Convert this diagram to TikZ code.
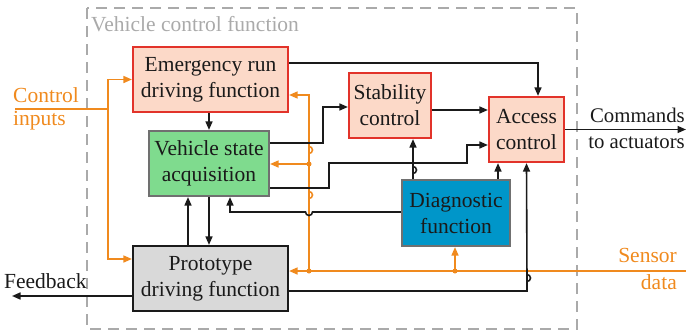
\documentclass[tikz,border=0pt]{standalone}
\usepackage{fontspec}
\setmainfont{Liberation Serif}
\usetikzlibrary{arrows.meta}
\definecolor{ora}{HTML}{F08A1E}
\definecolor{salm}{HTML}{FCD9C8}
\definecolor{redb}{HTML}{E2332A}
\definecolor{grn}{HTML}{7FDB8E}
\definecolor{blu}{HTML}{0096C9}
\definecolor{gry}{HTML}{D9D9D9}
\definecolor{brd}{HTML}{707070}
\definecolor{ttl}{HTML}{AAAAAA}
\definecolor{ink}{HTML}{1A1A1A}
\begin{document}
\begin{tikzpicture}[x=1pt,y=-1pt,
  txt/.style={font=\fontsize{21.5}{26}\selectfont, text=ink},
  box/.style={txt, draw, line width=2.2pt, align=center, inner sep=0pt},
  redbox/.style={box, draw=redb, fill=salm},
  arr/.style={line width=1.6pt, draw=ink, -{Triangle[length=8.5pt,width=7pt]}},
  ln/.style={line width=1.6pt, draw=ink},
  oarr/.style={line width=1.6pt, draw=ora, -{Triangle[length=8.5pt,width=7pt]}},
  oln/.style={line width=1.6pt, draw=ora},
  dotc/.style={circle, fill=ora, inner sep=0pt, minimum size=5pt},
  olab/.style={txt, text=ora, inner sep=0pt}
]
\useasboundingbox (0,0) rectangle (686,332);
% frame
\draw[ttl, line width=2.6pt, dash pattern=on 11pt off 7pt] (87,8) rectangle (577,329);
\node[txt, text=ttl, anchor=base west, inner sep=0pt] (title) at (91,31) {Vehicle control function};

% boxes
\node[redbox, minimum width=155pt, minimum height=65pt] (em) at (210.5,79.5) {Emergency run\\driving function};
\node[box, draw=brd, fill=grn, minimum width=120pt, minimum height=65pt] (vs) at (209,163.5) {Vehicle state\\acquisition};
\node[redbox, minimum width=82pt, minimum height=65pt] (st) at (390,105.5) {Stability\\control};
\node[redbox, minimum width=75pt, minimum height=65pt] (ac) at (526.5,129.5) {Access\\control};
\node[box, draw=brd, fill=blu, minimum width=108pt, minimum height=66pt] (dg) at (456,213) {Diagnostic\\function};
\node[box, draw=ink, fill=gry, minimum width=155pt, minimum height=65pt] (pt) at (210.5,278.5) {Prototype\\driving function};

% labels
\node[olab, anchor=base west] (ctl) at (13,102) {Control};
\node[olab, anchor=base west] (inp) at (13,125) {inputs};
\node[olab, anchor=base east] (sen) at (677,262) {Sensor};
\node[olab, anchor=base east] (dat) at (677,289) {data};
\node[txt, font=\fontsize{20.8}{26}\selectfont, anchor=base east, inner sep=0pt] (cm1) at (685,122) {Commands};
\node[txt, font=\fontsize{20.8}{26}\selectfont, anchor=base east, inner sep=0pt] (cm2) at (685,148) {to actuators};
\node[txt, anchor=base west, inner sep=0pt] (fbl) at (4,288) {Feedback};

% free ends
\coordinate (ciIn) at (15,109);
\coordinate (snIn) at (686,271);
\coordinate (cmOut) at (686,129.5);
\coordinate (fbOut) at (12,296);
\coordinate (cj) at (108,109);

% control inputs (orange)
\draw[oln] (ciIn) -- (cj);
\draw[oarr] (cj) |- (em.west);
\draw[oarr] (cj) |- ([yshift=19.5]pt.west);

% sensor data (orange)
\draw[oarr] (snIn) -- ([yshift=7.5]pt.east);
\node[dotc] (d1) at (455,271) {};
\node[dotc] (d2) at (309,271) {};
\node[dotc] (d3) at (309,164) {};
\draw[oarr] (d1.center) -- (d1.center |- dg.south);
\draw[oarr] (d3.center) -- (d3.center -| vs.east);
\draw[oarr] (d2.center) -- (309,191.5) arc[start angle=-90, end angle=90, radius=3.5]
  -- (309,146.5) arc[start angle=-90, end angle=90, radius=3.5]
  -- (309,95) -- (309,95 -| em.east);

% black connectors
\draw[arr] (em.south -| vs.north) -- (vs.north);
\draw[arr] ([yshift=16.5]em.east) -| ([xshift=11.5]ac.north);
\draw[arr] ([yshift=20.5]vs.east) -- (323,143) |- ([yshift=-1.5]st.west);
\draw[arr] ([yshift=-4.5]st.east) -- ([yshift=-4.5]st.east -| ac.west);
\draw[arr] ([yshift=-24.5]vs.east) -- (329,188) -- (329,163) -- (467,163) |- ([yshift=-15.5]ac.west);
\draw[arr] ([xshift=-43]dg.north) -- (413,166.5) arc[start angle=-90, end angle=90, radius=3.5] -- ([xshift=-43]dg.north |- st.south);
\draw[arr] ([xshift=42]dg.north) -- ([xshift=42]dg.north |- ac.south);
\draw[arr] ([yshift=1]dg.west) -- (312.5,212) arc[start angle=0, end angle=180, radius=3.5] -- (230,212) -- ([xshift=21]vs.south);
\draw[arr] ([xshift=-22.5]pt.north) -- ([xshift=-21]vs.south);
\draw[arr] (vs.south) -- (vs.south |- pt.north);
\draw[arr] ([yshift=-12.5]pt.east) -- (527,291) -- (527,274.5) arc[start angle=-90, end angle=90, radius=3.5] -- (ac.south);
\draw[arr] ([yshift=-17.5]pt.west) -- (fbOut);
\draw[arr] (ac.east) -- (cmOut);
\end{tikzpicture}
\end{document}
